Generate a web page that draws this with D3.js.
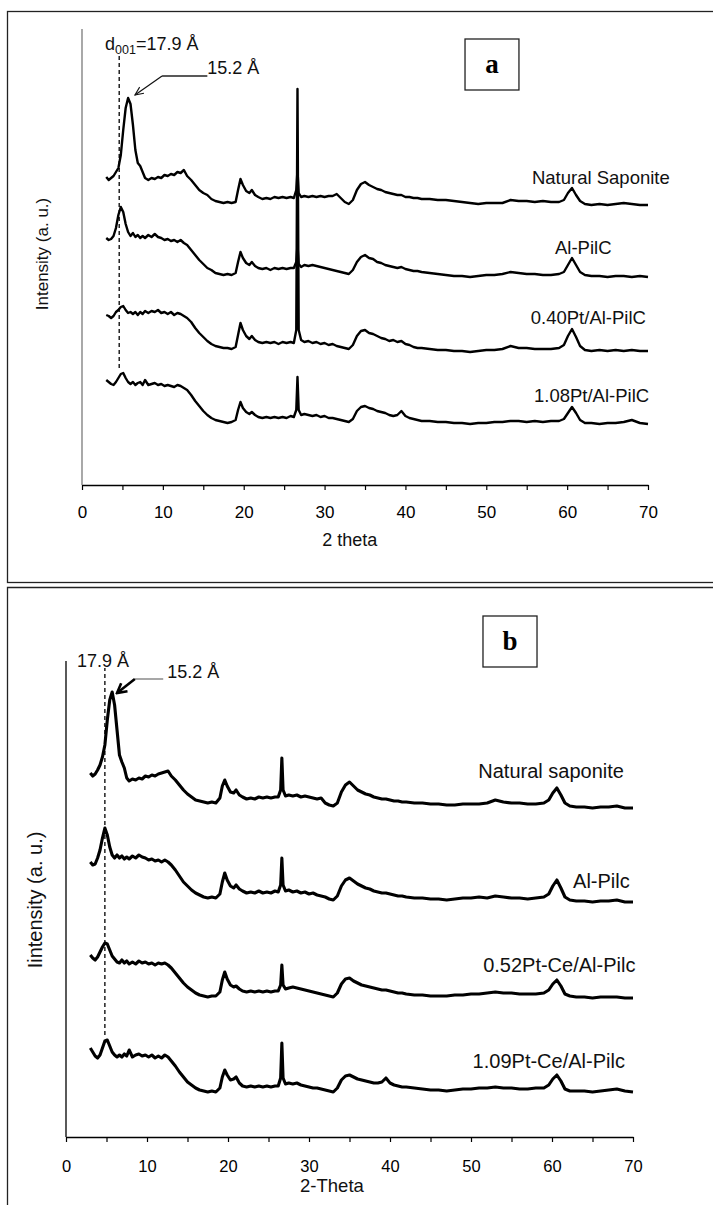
<!DOCTYPE html>
<html>
<head>
<meta charset="utf-8">
<script src="https://cdn.jsdelivr.net/npm/d3@7"></script>
<style>
body{margin:0;background:#fff;}
svg{display:block;}
</style>
</head>
<body>
<div id="xrddiv"></div>
<script>
var svgW=713,svgH=1205;
var sansfont="'Liberation Sans', Arial, Helvetica, sans-serif";
var seriffont="'Liberation Serif', 'Times New Roman', serif";

// 2 theta grid shared by every pattern (degrees)
var twoTheta=[
    3.0,3.3,3.6,3.9,4.2,4.5,4.8,5.1,5.4,5.7,6.0,6.3,6.6,6.9,7.2,7.5,7.8,
    8.2,8.6,9.0,9.4,9.8,10.2,10.6,11.0,11.4,11.8,12.2,12.6,
    13.0,13.5,14.0,14.5,15.0,15.5,16.0,16.5,17.0,17.5,18.0,18.5,19.0,
    19.3,19.6,19.9,20.3,20.7,21.0,21.4,21.8,
    22.3,22.8,23.3,23.8,24.3,24.8,25.3,25.8,
    26.2,26.5,26.65,26.8,27.1,27.5,
    28.0,28.5,29.0,29.5,30.0,30.5,31.0,31.5,32.0,32.5,33.0,33.5,34.0,34.5,35.0,
    35.5,36.0,36.5,37.0,37.5,38.0,38.5,39.0,39.5,40.0,40.5,41.0,41.5,42.0,
    43,44,45,46,47,48,49,50,51,52,53,54,55,56,57,58,59,
    59.6,60.1,60.6,61.1,61.6,62.2,
    63,64,65,66,67,68,69,70
];
var xTicks=d3.range(0,71,5);

//=========== panel a : intensity above each pattern's own background (a.u.) ===========
var namesA=["Natural Saponite","Al-PilC","0.40Pt/Al-PilC","1.08Pt/Al-PilC"];
var offsetsA=[280,208,134,61];
var saponiteA=[
    28,25,27,29,33,37,50,75,97,107,101,80,55,42,39,33,27,
    25,27,26,28,27,30,29,31,30,33,32,35,
    29,25,20,15,12,10,6,4,3,2,3,2,3,
    15,26,20,14,12,15,10,8,
    6,7,6,8,7,8,7,8,
    7,15,35,12,8,9,
    8,9,8,9,8,9,9,11,7,3,1,5,15,21,23,
    20,18,16,15,13,12,11,10,10,8,8,7,7,6,
    6,5,5,4,3,2,1,2,2,2,5,4,4,3,4,3,3,
    5,12,17,10,4,1,
    0,1,0,1,2,1,0,0];
var alpilcA=[
    39,37,38,41,49,62,70,65,53,45,41,44,40,42,39,41,39,
    42,40,43,40,39,37,38,36,37,35,37,34,
    32,27,22,17,13,9,7,4,3,2,3,2,4,
    15,25,19,14,12,15,11,9,
    8,9,7,9,8,9,8,9,
    9,15,32,13,10,12,
    11,12,11,10,9,8,7,6,5,4,3,7,15,20,22,
    19,18,15,14,12,11,10,9,10,8,7,6,6,5,
    4,3,2,1,1,0,1,2,2,3,5,4,3,3,2,2,3,
    5,12,19,12,5,2,
    1,1,0,1,1,0,1,0];
var pt040A=[
    36,35,33,35,39,41,44,45,41,38,39,37,39,36,39,37,40,
    38,40,39,41,38,39,37,39,36,38,37,35,
    33,29,23,18,14,10,7,5,4,3,3,2,4,
    16,28,21,15,12,15,11,9,
    8,9,8,9,7,9,8,9,
    8,21,262,21,11,9,
    10,8,9,7,8,6,7,5,4,3,2,6,15,20,21,
    18,17,15,13,12,10,11,9,10,7,6,4,3,3,
    2,1,1,0,0,-1,0,1,1,2,5,3,3,2,2,2,3,
    6,15,22,14,5,1,
    0,1,0,1,0,1,0,0];
var pt108A=[
    44,42,40,39,42,46,50,51,46,42,40,42,39,41,42,39,44,
    39,40,41,39,40,38,39,38,37,39,38,36,
    34,29,23,18,13,9,6,4,3,2,1,2,4,
    14,22,16,12,10,12,9,7,
    6,7,6,7,6,7,6,8,
    7,14,47,14,9,10,
    9,8,9,7,8,6,6,5,4,3,2,5,13,17,18,
    16,15,13,12,11,9,8,9,13,8,6,5,4,3,
    3,2,2,1,1,0,1,1,2,2,3,3,2,3,2,3,3,
    5,11,17,11,4,1,
    1,0,1,1,2,4,1,0];

//=========== panel b ===========
var namesB=["Natural saponite","Al-Pilc","0.52Pt-Ce/Al-Pilc","1.09Pt-Ce/Al-Pilc"];
var offsetsB=[329,235,139,45];
var saponiteB=[
    35,32,34,38,43,51,63,88,108,116,103,78,53,46,40,30,27,
    29,28,30,29,32,31,33,32,34,35,36,37,
    32,28,23,18,14,11,8,7,6,5,6,5,10,
    22,28,22,16,15,18,13,11,
    9,10,9,11,10,11,10,11,
    11,18,50,18,12,13,
    12,13,11,12,11,10,9,10,5,3,2,5,16,23,26,
    22,18,16,14,13,11,10,9,9,8,7,7,6,6,
    5,5,4,4,3,3,4,4,4,5,8,6,5,5,4,4,5,
    8,15,20,13,5,2,
    1,1,0,1,1,2,0,0];
var alpilcB=[
    40,37,38,44,52,64,74,67,55,47,44,47,44,46,43,45,43,
    46,44,47,45,44,42,43,41,42,40,42,40,
    37,32,26,20,16,12,9,7,5,4,5,4,8,
    20,29,22,16,14,17,13,11,
    9,10,9,11,9,10,9,11,
    10,17,44,17,11,12,
    10,11,9,10,8,9,7,6,5,3,2,6,16,22,24,
    21,18,16,14,13,11,10,9,9,8,7,6,6,5,
    4,4,3,3,2,3,4,4,5,4,6,5,4,4,3,4,5,
    8,16,22,14,5,2,
    1,1,0,1,1,2,0,0];
var ptce052B=[
    43,40,38,41,46,51,55,54,48,42,39,36,35,38,35,37,34,
    36,34,37,35,36,34,35,33,35,34,35,33,
    30,25,20,15,11,8,5,3,2,1,2,2,6,
    18,26,19,13,11,12,9,7,
    6,7,6,7,6,7,6,7,
    7,13,33,13,9,10,
    11,10,9,8,7,6,5,4,3,2,1,5,14,19,20,
    17,15,13,12,11,10,9,8,8,7,6,5,5,4,
    3,3,2,2,2,3,3,4,4,5,6,5,5,4,4,4,5,
    8,14,18,12,4,2,
    1,1,0,1,1,1,0,0];
var ptce109B=[
    44,40,36,34,37,44,51,52,46,40,37,35,37,35,38,36,42,
    35,37,38,36,37,35,37,34,36,34,37,35,
    31,26,20,15,10,7,4,2,1,0,1,0,4,
    15,22,17,12,13,15,9,6,
    5,6,5,6,5,6,5,6,
    6,14,49,14,8,9,
    8,9,7,6,5,4,4,3,2,1,0,4,12,16,17,
    15,13,12,11,10,9,9,10,14,9,7,6,5,5,
    4,3,2,2,1,2,3,3,4,4,5,4,4,3,3,4,4,
    7,13,17,11,3,1,
    1,1,0,1,2,3,1,0];


var panelA={
    left:82,right:648,top:29,bottom:485,ymax:456,
    names:namesA,offsets:offsetsA,series:[saponiteA,alpilcA,pt040A,pt108A],
    labelpos:[[55.65,301],[58.5,231],[55.5,161],[55.9,83]],
    linew:2.4,tickfont:17,tickpad:16,labelfont:18.5,titlefont:18,
    yaxiscolor:"#7a7a7a",
    xtitle:"2 theta",xtitlepos:[29.7,-61],
    ytitle:"Intensity (a. u.)",ytitlefont:17,ytitlex:48,ytitley:231,
    dash:{x:4.6,y1:117,y2:430},
    d001:true,text179:[2.85,435],text152:[15.5,411],
    leader:[[15.5,409],[9.9,409],[6.55,390]],leadercolor:"#222",arrowcolor:"#111",arroww:1.2,arrowid:"arrA",
    box:{x0:47.37,x1:54.04,y0:395,y1:446,letter:"a"}
};

var panelB={
    left:66,right:633,top:661,bottom:1137,ymax:476,
    names:namesB,offsets:offsetsB,series:[saponiteB,alpilcB,ptce052B,ptce109B],
    labelpos:[[50.9,359],[62.6,249],[51.5,165],[50.2,69]],
    linew:3.1,tickfont:16.5,tickpad:18,labelfont:20,titlefont:18.5,
    yaxiscolor:"#000",
    xtitle:"2-Theta",xtitlepos:[28.9,-55],
    ytitle:"Iintensity (a. u.)",ytitlefont:20,ytitlex:42,ytitley:237,
    dash:{x:4.8,y1:102,y2:469},
    d001:false,text179:[1.36,470],text152:[12.5,459],
    leader:[[12.0,458],[8.5,458],[6.3,444]],leadercolor:"#777",arrowcolor:"#000",arroww:2.6,arrowid:"arrB",
    box:{x0:51.48,x1:58.15,y0:470,y1:521,letter:"b"}
};


var svg=d3.select("#xrddiv")
    .append("svg")
    .attr("width",svgW)
    .attr("height",svgH);

svg.append("rect").attr("width",svgW).attr("height",svgH).attr("fill","#fff");

var defs=svg.append("defs");
defs.append("marker").attr("id","arrA")
    .attr("viewBox","0 0 12 12").attr("refX",11).attr("refY",6)
    .attr("markerWidth",10).attr("markerHeight",10)
    .attr("markerUnits","userSpaceOnUse").attr("orient","auto")
    .append("path").attr("d","M1,1.5 L11,6 L1,10.5")
    .attr("fill","none").attr("stroke","#111").attr("stroke-width",1.3);
defs.append("marker").attr("id","arrB")
    .attr("viewBox","0 0 14 14").attr("refX",12).attr("refY",7)
    .attr("markerWidth",13).attr("markerHeight",13)
    .attr("markerUnits","userSpaceOnUse").attr("orient","auto")
    .append("path").attr("d","M2,1.5 L12,7 L2,12.5")
    .attr("fill","none").attr("stroke","#000").attr("stroke-width",2.8);

// outer frames
svg.append("rect")
    .attr("x",7.5).attr("y",11.5).attr("width",720).attr("height",571)
    .attr("fill","none").attr("stroke","#222").attr("stroke-width",1.3);
svg.append("path")
    .attr("d","M7.5,1210 V587.5 H730")
    .attr("fill","none").attr("stroke","#222").attr("stroke-width",1.3);

drawpanel(panelA);
drawpanel(panelB);


function drawpanel(p){
    var g=svg.append("g");
    var x=d3.scaleLinear().domain([0,70]).range([p.left,p.right]);
    var y=d3.scaleLinear().domain([0,p.ymax]).range([p.bottom,p.top]);

    g.append("line")
        .attr("x1",p.left).attr("x2",p.left)
        .attr("y1",p.top).attr("y2",p.bottom)
        .attr("stroke",p.yaxiscolor).attr("stroke-width",1.3);

    var xaxis=g.append("g")
        .attr("transform","translate(0,"+p.bottom+")")
        .call(d3.axisBottom(x)
            .tickValues(xTicks)
            .tickSize(5)
            .tickSizeOuter(0)
            .tickPadding(p.tickpad)
            .tickFormat(function(d){return d%10==0?d:"";}));
    xaxis.select(".domain").attr("stroke","#000").attr("stroke-width",1.3);
    xaxis.selectAll(".tick line").attr("stroke","#000").attr("stroke-width",1.2);
    xaxis.selectAll(".tick text")
        .style("font-family",sansfont)
        .style("font-size",p.tickfont+"px")
        .attr("fill","#000");

    var line=d3.line()
        .x(function(d){return x(d[0]);})
        .y(function(d){return y(d[1]);});

    p.series.forEach(function(s,i){
        var pts=twoTheta.map(function(t,j){return [t,s[j]+p.offsets[i]];});
        g.append("path")
            .attr("d",line(pts))
            .attr("fill","none")
            .attr("stroke","#000")
            .attr("stroke-width",p.linew)
            .attr("stroke-linejoin","round");
        g.append("text")
            .attr("x",x(p.labelpos[i][0]))
            .attr("y",y(p.labelpos[i][1]))
            .style("font-family",sansfont)
            .style("font-size",p.labelfont+"px")
            .attr("fill","#111")
            .text(p.names[i]);
    });

    // d001 dashed marker
    g.append("line")
        .attr("x1",x(p.dash.x)).attr("x2",x(p.dash.x))
        .attr("y1",y(p.dash.y1)).attr("y2",y(p.dash.y2))
        .attr("stroke","#000").attr("stroke-width",1.3)
        .attr("stroke-dasharray","4,3");

    var t179=g.append("text")
        .attr("x",x(p.text179[0]))
        .attr("y",y(p.text179[1]))
        .style("font-family",sansfont)
        .style("font-size","18px")
        .attr("fill","#111");
    if(p.d001){
        t179.append("tspan").text("d");
        t179.append("tspan").attr("dy",4).style("font-size","12.5px").text("001");
        t179.append("tspan").attr("dy",-4).text("=17.9 \u00C5");
    }else{
        t179.text("17.9 \u00C5");
    }

    g.append("text")
        .attr("x",x(p.text152[0]))
        .attr("y",y(p.text152[1]))
        .style("font-family",sansfont)
        .style("font-size","18px")
        .attr("fill","#111")
        .text("15.2 \u00C5");

    g.append("line")
        .attr("x1",x(p.leader[0][0])).attr("y1",y(p.leader[0][1]))
        .attr("x2",x(p.leader[1][0])).attr("y2",y(p.leader[1][1]))
        .attr("stroke",p.leadercolor).attr("stroke-width",1.3);
    g.append("line")
        .attr("x1",x(p.leader[1][0])).attr("y1",y(p.leader[1][1]))
        .attr("x2",x(p.leader[2][0])).attr("y2",y(p.leader[2][1]))
        .attr("stroke",p.arrowcolor).attr("stroke-width",p.arroww)
        .attr("marker-end","url(#"+p.arrowid+")");

    // panel letter box
    g.append("rect")
        .attr("x",x(p.box.x0)).attr("y",y(p.box.y1))
        .attr("width",x(p.box.x1)-x(p.box.x0))
        .attr("height",y(p.box.y0)-y(p.box.y1))
        .attr("fill","#fff").attr("stroke","#222").attr("stroke-width",1.3);
    g.append("text")
        .attr("x",(x(p.box.x0)+x(p.box.x1))/2)
        .attr("y",(y(p.box.y0)+y(p.box.y1))/2+8)
        .attr("text-anchor","middle")
        .style("font-family",seriffont)
        .style("font-weight","bold")
        .style("font-size","27px")
        .attr("fill","#000")
        .text(p.box.letter);

    g.append("text")
        .attr("x",x(p.xtitlepos[0]))
        .attr("y",y(p.xtitlepos[1]))
        .style("font-family",sansfont)
        .style("font-size",p.titlefont+"px")
        .attr("fill","#111")
        .text(p.xtitle);

    g.append("text")
        .attr("transform","translate("+p.ytitlex+","+y(p.ytitley)+") rotate(-90)")
        .attr("text-anchor","middle")
        .style("font-family",sansfont)
        .style("font-size",p.ytitlefont+"px")
        .attr("fill","#111")
        .text(p.ytitle);
}
</script>
</body>
</html>
